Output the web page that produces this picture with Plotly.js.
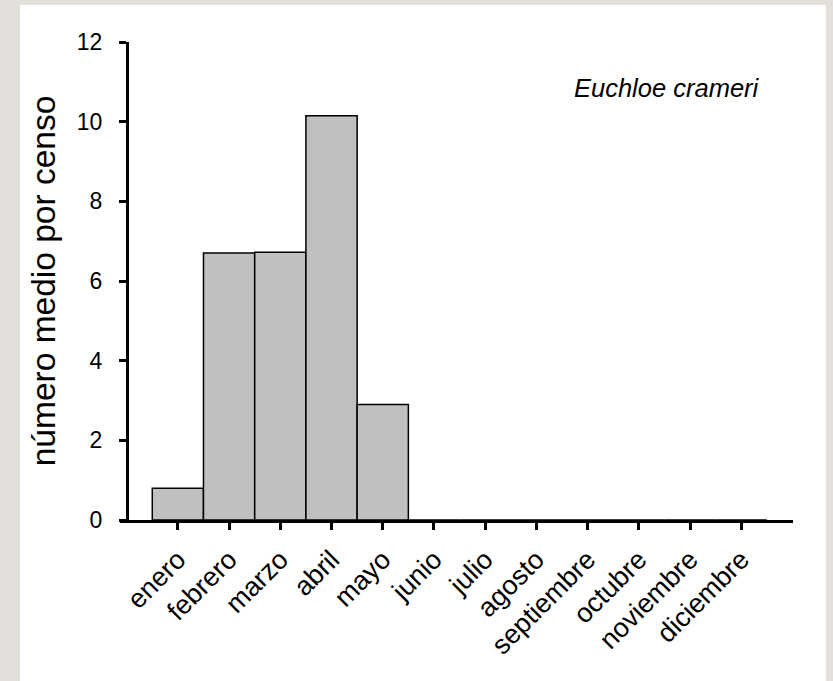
<!DOCTYPE html>
<html>
<head>
<meta charset="utf-8">
<script src="https://cdn.plot.ly/plotly-3.0.1.min.js"></script>
<style>
html,body{margin:0;padding:0;background:#e2dfdb;}
#chart{width:833px;height:681px;}
</style>
</head>
<body>
<div id="chart"></div>
<script>
const months = ["enero","febrero","marzo","abril","mayo","junio","julio","agosto","septiembre","octubre","noviembre","diciembre"];
const meanPerCensus = [0.8, 6.7, 6.72, 10.15, 2.9, 0, 0, 0, 0, 0, 0, 0];
const yTickValues = [0, 2, 4, 6, 8, 10, 12];
const speciesLabel = "Euchloe crameri";
const yTitle = "número medio por censo";

const font = "Liberation Sans, Arial, sans-serif";

const trace = {
  type: "bar",
  x: months,
  y: meanPerCensus,
  marker: {color: "#c0c0c0", line: {color: "#000000", width: 1.5}},
  hoverinfo: "x+y"
};

const layout = {
  width: 833,
  height: 681,
  margin: {l: 120, r: 40, t: 42, b: 161, pad: 0},
  paper_bgcolor: "#e2dfdb",
  plot_bgcolor: "rgba(0,0,0,0)",
  showlegend: false,
  bargap: 0,
  font: {family: font, color: "#000000"},
  xaxis: {
    type: "category",
    range: [-1.13, 12.01],
    showline: true,
    linecolor: "#000000",
    linewidth: 3,
    ticks: "outside",
    ticklen: 7,
    tickwidth: 3,
    tickcolor: "#000000",
    tickangle: -45,
    tickfont: {family: font, size: 27, color: "#000000"},
    ticklabelstandoff: 3,
    showgrid: false,
    zeroline: false,
    fixedrange: true
  },
  yaxis: {
    range: [0, 12],
    anchor: "free",
    position: 0.0104,
    showline: true,
    linecolor: "#000000",
    linewidth: 3,
    ticks: "outside",
    ticklen: 7,
    tickwidth: 3,
    tickcolor: "#000000",
    tickvals: yTickValues,
    ticktext: yTickValues.map(String),
    tickfont: {family: font, size: 23, color: "#000000"},
    ticklabelstandoff: 12,
    showgrid: false,
    zeroline: false,
    fixedrange: true,
    title: {text: yTitle, font: {family: font, size: 33.5, color: "#000000"}, standoff: 10}
  },
  shapes: [{
    type: "rect", xref: "paper", yref: "paper", layer: "below",
    x0: -0.1486, x1: 1.049, y0: -0.34, y1: 1.0774,
    fillcolor: "#ffffff", line: {width: 0}
  }],
  annotations: [{
    text: "<i>" + speciesLabel + "</i>",
    xref: "paper", yref: "paper",
    x: 0.954, y: 0.904, xanchor: "right", yanchor: "middle",
    showarrow: false,
    font: {family: font, size: 25.5, color: "#000000"}
  }]
};

Plotly.newPlot("chart", [trace], layout, {displayModeBar: false, staticPlot: true});
</script>
</body>
</html>
